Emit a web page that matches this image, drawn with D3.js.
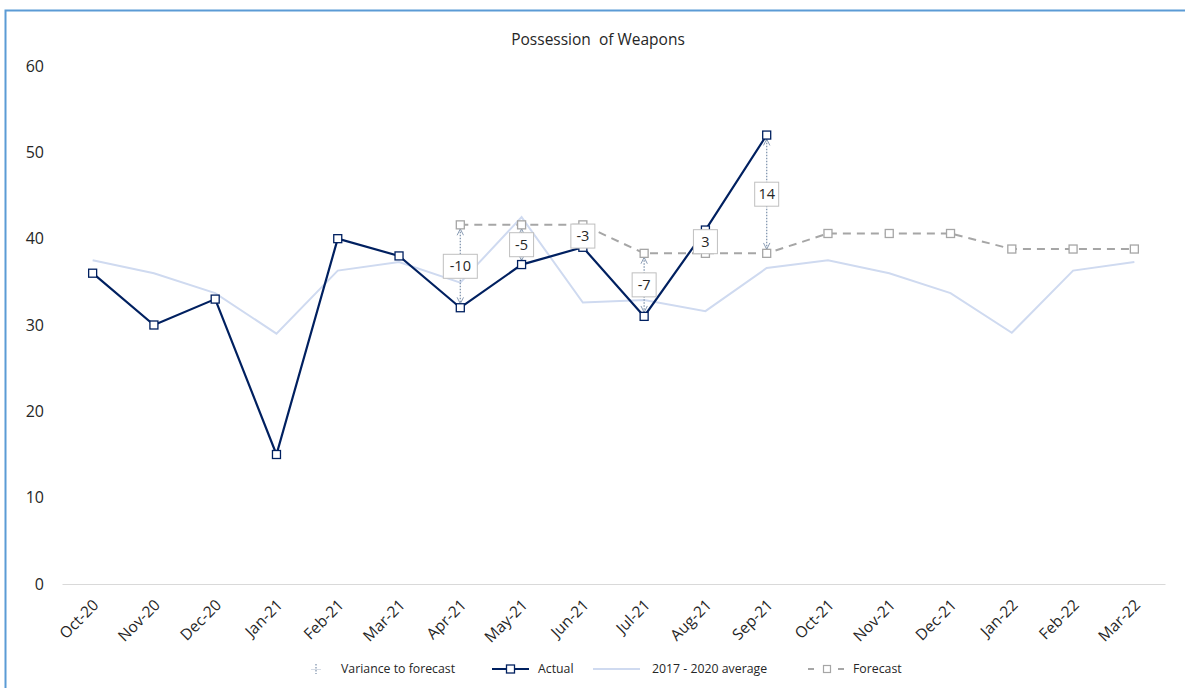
<!DOCTYPE html>
<html>
<head>
<meta charset="utf-8">
<script src="https://cdn.jsdelivr.net/npm/d3@7"></script>
<style>
  body { margin: 0; background: #fff; }
  svg { display: block; font-family: "Open Sans", "Noto Sans", sans-serif; }
</style>
</head>
<body>
<div id="chart"></div>
<script>
// Datos
const months = ['Oct-20','Nov-20','Dec-20','Jan-21','Feb-21','Mar-21','Apr-21','May-21','Jun-21','Jul-21','Aug-21','Sep-21',
                'Oct-21','Nov-21','Dec-21','Jan-22','Feb-22','Mar-22'];
const actual = [36, 30, 33, 15, 40, 38, 32, 37, 39, 31, 41, 52];
const average = [37.5, 36, 33.7, 29, 36.3, 37.3, 34.9, 42.5, 32.6, 32.9, 31.6, 36.6,
                 37.5, 36, 33.7, 29.1, 36.3, 37.3];
// forecast starts at Apr-21
const forecastStart = 6;
const forecast = [41.6, 41.6, 41.6, 38.3, 38.3, 38.3, 40.6, 40.6, 40.6, 38.8, 38.8, 38.8];
const variance = [-10, -5, -3, -7, 3, 14];
const yTicks = [0, 10, 20, 30, 40, 50, 60];

const COLOR_ACTUAL = '#002060',
      COLOR_AVG = '#cfdaf0',
      COLOR_FORECAST = '#a6a6a6',
      COLOR_VAR = '#8497b0';

let W = 1185, H = 688;
let margin = {top: 66, right: 20, bottom: 104, left: 62},
    width = 1165 - margin.left,
    height = 584 - margin.top;

let svg = d3.select('#chart').append('svg')
    .attr('width', W).attr('height', H);

// marco
svg.append('rect')
    .attr('x', 5.5).attr('y', 10.5)
    .attr('width', W + 10).attr('height', H + 10)
    .attr('fill', 'none').attr('stroke', '#5b9bd5').attr('stroke-width', 2);

svg.append('text')
    .attr('x', 598).attr('y', 45)
    .attr('text-anchor', 'middle')
    .attr('font-size', 15.5).attr('fill', '#262626')
    .attr('xml:space', 'preserve')
    .text('Possession  of Weapons');

let defs = svg.append('defs');
['start', 'end'].forEach(function(k) {
    defs.append('marker')
        .attr('id', 'arr-' + k)
        .attr('viewBox', '0 0 10 10')
        .attr('refX', 9).attr('refY', 5)
        .attr('markerWidth', 8).attr('markerHeight', 8)
        .attr('markerUnits', 'userSpaceOnUse')
        .attr('orient', k == 'start' ? 'auto-start-reverse' : 'auto')
        .append('path')
        .attr('d', 'M1,1 L9,5 L1,9')
        .attr('fill', 'none').attr('stroke', COLOR_VAR).attr('stroke-width', 1.2);
});

let g = svg.append('g').attr('transform', 'translate(' + margin.left + ',' + margin.top + ')');

let x = d3.scaleBand().domain(months).range([0, width]);
let cx = function(m) { return x(m) + x.bandwidth() / 2; };
let y = d3.scaleLinear().domain([0, 60]).range([height, 0]);

// Eje Y
let yAxis = function(g) {
    g.call(d3.axisLeft(y).tickValues(yTicks).tickSize(0).tickPadding(18));
    g.call(function(g) { g.select('.domain').remove(); });
    g.selectAll('.tick text').attr('font-size', 16).attr('fill', '#262626')
        .attr('font-family', '"Open Sans", sans-serif');
};
g.append('g').call(yAxis);

// Eje X
let xAxis = function(g) {
    g.call(d3.axisBottom(x).tickSize(0).tickPadding(0));
    g.call(function(g) { g.select('.domain').attr('stroke', '#d9d9d9'); });
    g.selectAll('.tick text')
        .attr('font-size', 15.5).attr('fill', '#262626')
        .attr('font-family', '"Open Sans", sans-serif')
        .attr('text-anchor', 'end')
        .attr('dy', '0')
        .attr('y', 0)
        .attr('transform', 'translate(7,22) rotate(-45)');
};
g.append('g').attr('transform', 'translate(0,' + height + ')').call(xAxis);

// Promedio 2017-2020
g.append('path')
    .datum(average)
    .attr('fill', 'none').attr('stroke', COLOR_AVG).attr('stroke-width', 2)
    .attr('d', d3.line().x(function(d, i) { return cx(months[i]); }).y(function(d) { return y(d); }));

// Forecast
let fData = forecast.map(function(v, i) { return {m: months[forecastStart + i], v: v}; });
g.append('path')
    .datum(fData)
    .attr('fill', 'none').attr('stroke', COLOR_FORECAST).attr('stroke-width', 2)
    .attr('stroke-dasharray', '8,6')
    .attr('d', d3.line().x(function(d) { return cx(d.m); }).y(function(d) { return y(d.v); }));

// Varianza (líneas punteadas)
let vData = variance.map(function(v, i) {
    let idx = forecastStart + i;
    return {m: months[idx], f: forecast[i], a: actual[idx], v: v};
});
g.selectAll('.var-line')
    .data(vData).enter().append('line')
    .attr('x1', function(d) { return cx(d.m); })
    .attr('x2', function(d) { return cx(d.m); })
    .attr('y1', function(d) { return y(d.f) + (d.a > d.f ? -4 : 4); })
    .attr('y2', function(d) { return y(d.a) + (d.a > d.f ? 4 : -4); })
    .attr('stroke', COLOR_VAR).attr('stroke-width', 1.3)
    .attr('stroke-dasharray', '1.5,1.5')
    .attr('marker-start', 'url(#arr-start)')
    .attr('marker-end', 'url(#arr-end)');

g.selectAll('.f-mark')
    .data(fData).enter().append('rect')
    .attr('x', function(d) { return cx(d.m) - 4; })
    .attr('y', function(d) { return y(d.v) - 4; })
    .attr('width', 8).attr('height', 8)
    .attr('fill', '#fff').attr('stroke', COLOR_FORECAST).attr('stroke-width', 1.3);

// Actual
g.append('path')
    .datum(actual)
    .attr('fill', 'none').attr('stroke', COLOR_ACTUAL).attr('stroke-width', 2.2)
    .attr('d', d3.line().x(function(d, i) { return cx(months[i]); }).y(function(d) { return y(d); }));

g.selectAll('.a-mark')
    .data(actual).enter().append('rect')
    .attr('x', function(d, i) { return cx(months[i]) - 4; })
    .attr('y', function(d) { return y(d) - 4; })
    .attr('width', 8).attr('height', 8)
    .attr('fill', '#fff').attr('stroke', COLOR_ACTUAL).attr('stroke-width', 1.3);

// Etiquetas de varianza
let lab = g.selectAll('.var-label')
    .data(vData).enter().append('g')
    .attr('transform', function(d) {
        return 'translate(' + cx(d.m) + ',' + ((y(d.f) + y(d.a)) / 2) + ')';
    });
lab.append('rect')
    .attr('x', function(d) { return String(d.v).length > 2 ? -17 : -12; })
    .attr('width', function(d) { return String(d.v).length > 2 ? 34 : 24; })
    .attr('y', -12).attr('height', 24)
    .attr('fill', '#fff').attr('stroke', '#bfbfbf').attr('stroke-width', 1);
lab.append('text')
    .attr('text-anchor', 'middle').attr('dy', '0.35em')
    .attr('font-size', 14.5).attr('fill', '#262626')
    .text(function(d) { return d.v; });

// Leyenda
let leg = svg.append('g').attr('font-size', 12.3).attr('fill', '#262626');
let ly = 669;
leg.append('line').attr('x1', 316).attr('x2', 316).attr('y1', ly - 5).attr('y2', ly + 5)
    .attr('stroke', COLOR_VAR).attr('stroke-width', 1.3).attr('stroke-dasharray', '1.5,1.5');
leg.append('line').attr('x1', 311).attr('x2', 321).attr('y1', ly + 0.5).attr('y2', ly + 0.5)
    .attr('stroke', '#d6dce5').attr('stroke-width', 1);
leg.append('text').attr('x', 341).attr('y', ly).attr('dy', '0.35em').text('Variance to forecast');

leg.append('line').attr('x1', 492).attr('x2', 529).attr('y1', ly).attr('y2', ly)
    .attr('stroke', COLOR_ACTUAL).attr('stroke-width', 2.2);
leg.append('rect').attr('x', 506.5).attr('y', ly - 4).attr('width', 8).attr('height', 8)
    .attr('fill', '#fff').attr('stroke', COLOR_ACTUAL).attr('stroke-width', 1.3);
leg.append('text').attr('x', 538).attr('y', ly).attr('dy', '0.35em').text('Actual');

leg.append('line').attr('x1', 593).attr('x2', 640).attr('y1', ly).attr('y2', ly)
    .attr('stroke', COLOR_AVG).attr('stroke-width', 2);
leg.append('text').attr('x', 652).attr('y', ly).attr('dy', '0.35em').text('2017 - 2020 average');

leg.append('line').attr('x1', 808).attr('x2', 846).attr('y1', ly).attr('y2', ly)
    .attr('stroke', COLOR_FORECAST).attr('stroke-width', 2).attr('stroke-dasharray', '6,9');
leg.append('rect').attr('x', 823.5).attr('y', ly - 3.5).attr('width', 7).attr('height', 7)
    .attr('fill', '#fff').attr('stroke', COLOR_FORECAST).attr('stroke-width', 1.2);
leg.append('text').attr('x', 853).attr('y', ly).attr('dy', '0.35em').text('Forecast');
</script>
</body>
</html>
